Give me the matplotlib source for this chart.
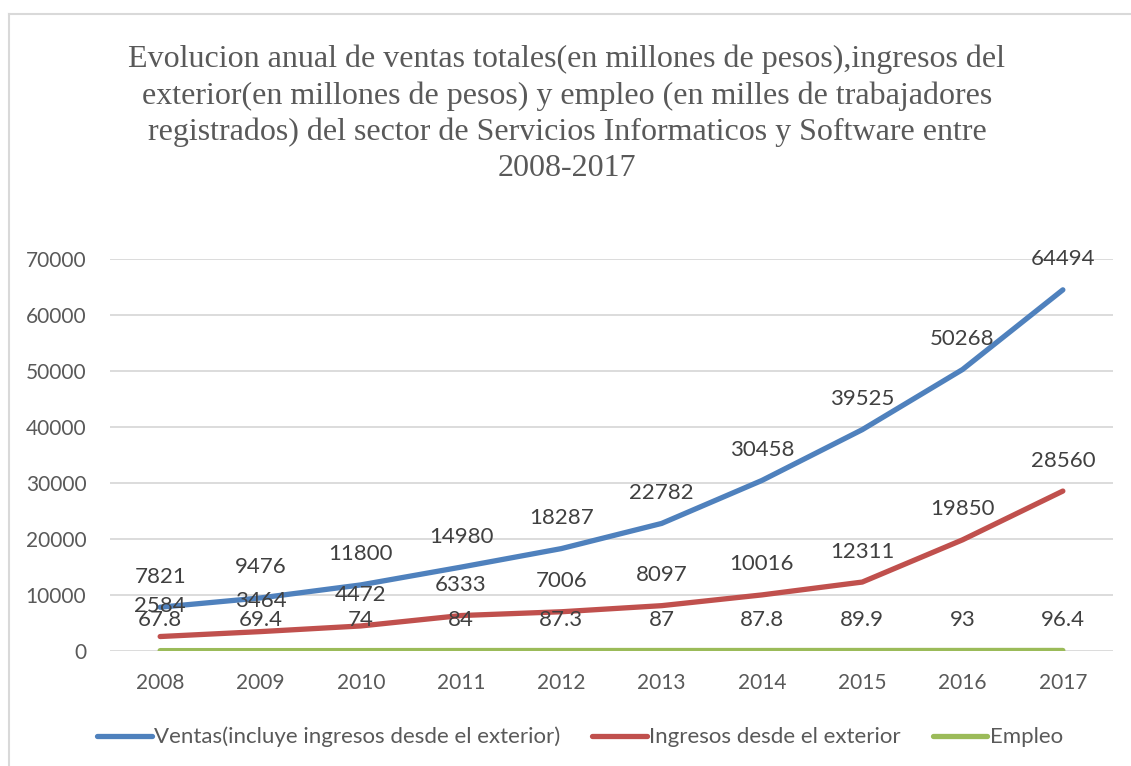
import matplotlib
matplotlib.use('Agg')
import matplotlib.pyplot as plt
from matplotlib.lines import Line2D

years = ['2008', '2009', '2010', '2011', '2012', '2013', '2014', '2015', '2016', '2017']
ventas = [7821, 9476, 11800, 14980, 18287, 22782, 30458, 39525, 50268, 64494]
ingresos = [2584, 3464, 4472, 6333, 7006, 8097, 10016, 12311, 19850, 28560]
empleo = [67.8, 69.4, 74, 84, 87.3, 87, 87.8, 89.9, 93, 96.4]

series_names = ['Ventas(incluye ingresos desde el exterior)',
                'Ingresos desde el exterior', 'Empleo']
colors = ['#4F81BD', '#C0504D', '#9BBB59']

title = ('Evolucion anual de ventas totales(en millones de pesos),ingresos del\n'
         'exterior(en millones de pesos) y empleo (en milles de trabajadores\n'
         'registrados) del sector de Servicios Informaticos y Software entre\n'
         '2008-2017')

W, H = 1131, 766
fig = plt.figure(figsize=(W / 100, H / 100), dpi=100)
ax = fig.add_axes([110 / W, 1 - 651 / H, (1113 - 110) / W, (651 - 259) / H])

# chart border (only top and left visible in the crop)
fig.add_artist(Line2D([9 / W, 1], [1 - 14 / H, 1 - 14 / H], color='#D9D9D9', lw=1.5))
fig.add_artist(Line2D([9 / W, 9 / W], [0, 1 - 14 / H], color='#D9D9D9', lw=1.5))

x = range(len(years))
for vals, name, c in zip([ventas, ingresos, empleo], series_names, colors):
    ax.plot(x, vals, color=c, lw=3.8, solid_capstyle='round',
            solid_joinstyle='round', label=name, zorder=3)
    for xi, v in zip(x, vals):
        ax.annotate(f'{v:g}', (xi, v), xytext=(0, 22), textcoords='offset points',
                    ha='center', va='center', fontsize=16, color='#404040',
                    family='Lato', zorder=4)

ax.set_xlim(-0.5, len(years) - 0.5)
ax.set_ylim(0, 70000)
ax.set_yticks(range(0, 70001, 10000))
ax.set_yticklabels([str(v) for v in range(0, 70001, 10000)])
ax.set_xticks(list(x))
ax.set_xticklabels(years)
ax.grid(axis='y', color='#D9D9D9', lw=1.3, zorder=0)
ax.set_axisbelow(True)
for s in ax.spines.values():
    s.set_visible(False)
ax.tick_params(length=0, labelsize=15, labelcolor='#595959')
ax.tick_params(axis='y', pad=17)
ax.tick_params(axis='x', pad=16)
for lbl in ax.get_xticklabels() + ax.get_yticklabels():
    lbl.set_family('Lato')

fig.text(567 / W, 1 - 114 / H, title, ha='center', va='center',
         family='Liberation Serif', fontsize=23, color='#595959', linespacing=1.32)

leg = ax.legend(loc='center', bbox_to_anchor=(580 / W, 1 - 737 / H),
                bbox_transform=fig.transFigure, ncol=3, frameon=False,
                handlelength=2.45, handletextpad=0.1, columnspacing=1.45,
                prop={'family': 'Lato', 'size': 16})
for t in leg.get_texts():
    t.set_color('#595959')

fig.savefig('out.png', dpi=100)
